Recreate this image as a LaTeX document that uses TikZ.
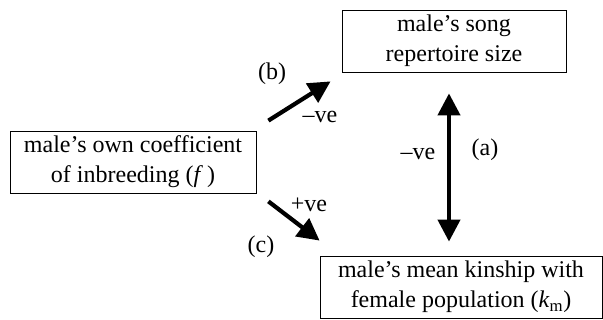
\documentclass[tikz,border=0pt]{standalone}
\usepackage{fontspec}
\setmainfont{Liberation Serif}
\usetikzlibrary{arrows.meta,positioning}
\tikzset{
  factor/.style={draw,line width=0.8pt,align=center,inner sep=0pt,font=\fontsize{24}{30}\selectfont},
  effect/.style={line width=4.2pt,-{Triangle[width=22pt,length=22pt]}},
  tag/.style={font=\fontsize{24}{28}\selectfont,inner sep=0pt}
}
\begin{document}
\begin{tikzpicture}[x=1pt,y=-1pt]
    \useasboundingbox (0,0) rectangle (603,320);
    % boxes
    \node (song) [factor,minimum width=224pt,minimum height=62pt] at (454,41) {male's song\\repertoire size};
    \node (inbreed) [factor,minimum width=246pt,minimum height=62pt] at (133,162) {male's own coefficient\\of inbreeding (\textit{f}\,)};
    \node (kinship) [factor,minimum width=282pt,minimum height=62pt] at (461,287) {male's mean kinship with\\female population (\textit{k}\textsubscript{m})};
    % arrow ends
    \coordinate (b0) at ([xshift=12pt,yshift=10pt]inbreed.north east);
    \coordinate (b1) at ([xshift=-11pt,yshift=-9pt]song.south west);
    \coordinate (c0) at ([xshift=12pt,yshift=-8pt]inbreed.south east);
    \coordinate (c1) at ([xshift=0pt,yshift=15pt]kinship.north west);
    \coordinate (a0) at ([xshift=-5pt,yshift=-21pt]song.south);
    \coordinate (a1) at ([xshift=-12pt,yshift=14pt]kinship.north);
    % arrows
    \draw[effect] (b0) -- (b1);
    \draw[effect] (c0) -- (c1);
    \draw[effect,{Triangle[width=22pt,length=22pt]}-{Triangle[width=22pt,length=22pt]}] (a0) -- (a1);
    % labels
    \node (lb) [tag] at (272,74) {(b)};
    \node (nb) [tag] at (320,117) {--ve};
    \node (na) [tag] at (418,154) {--ve};
    \node (la) [tag] at (485,150) {(a)};
    \node (pc) [tag] at (309,205) {+ve};
    \node (lc) [tag] at (261,247) {(c)};
\end{tikzpicture}
\end{document}
